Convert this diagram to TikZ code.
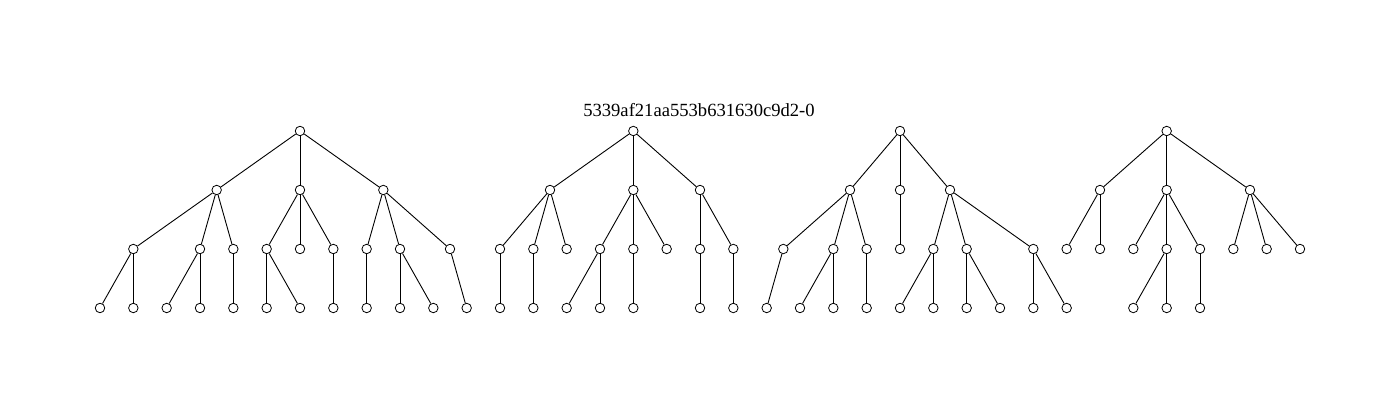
\documentclass[tikz,border=0pt]{standalone}
\usepackage{fontspec}
\setmainfont{Liberation Serif}
\tikzset{vtx/.style={circle,draw,fill=white,inner sep=0pt,minimum size=9.5pt,line width=.8pt},
  edge/.style={line width=.9pt}}

\begin{document}
\begin{tikzpicture}[x=33.333pt,y=59pt]
\useasboundingbox (-3,2.2203) rectangle (39,-4.7119);
\node[font=\fontsize{18.6}{22}\selectfont] (title) at (17.97,0.36) {5339af21aa553b631630c9d2-0};
% tree 1
\foreach \n/\x/\y in {t1/6/0, t1a/3.5/-1, t1b/6/-1, t1c/8.5/-1,
  t1aa/1/-2, t1ab/3/-2, t1ac/4/-2, t1ba/5/-2, t1bb/6/-2, t1bc/7/-2, t1ca/8/-2, t1cb/9/-2, t1cc/10.5/-2,
  t1aaa/0/-3, t1aab/1/-3, t1aba/2/-3, t1abb/3/-3, t1aca/4/-3, t1baa/5/-3, t1bab/6/-3,
  t1bca/7/-3, t1caa/8/-3, t1cba/9/-3, t1cbb/10/-3, t1cca/11/-3}
  \node[vtx] (\n) at (\x,\y) {};
% tree 2
\foreach \n/\x/\y in {t2/16/0, t2a/13.5/-1, t2b/16/-1, t2c/18/-1,
  t2aa/12/-2, t2ab/13/-2, t2ac/14/-2, t2ba/15/-2, t2bb/16/-2, t2bc/17/-2, t2ca/18/-2, t2cb/19/-2,
  t2aaa/12/-3, t2aba/13/-3, t2baa/14/-3, t2bab/15/-3, t2bba/16/-3, t2caa/18/-3, t2cba/19/-3}
  \node[vtx] (\n) at (\x,\y) {};
% tree 3
\foreach \n/\x/\y in {t3/24/0, t3a/22.5/-1, t3b/24/-1, t3c/25.5/-1,
  t3aa/20.5/-2, t3ab/22/-2, t3ac/23/-2, t3ba/24/-2, t3ca/25/-2, t3cb/26/-2, t3cc/28/-2,
  t3aaa/20/-3, t3aba/21/-3, t3abb/22/-3, t3aca/23/-3, t3caa/24/-3, t3cab/25/-3,
  t3cba/26/-3, t3cbb/27/-3, t3cca/28/-3, t3ccb/29/-3}
  \node[vtx] (\n) at (\x,\y) {};
% tree 4
\foreach \n/\x/\y in {t4/32/0, t4a/30/-1, t4b/32/-1, t4c/34.5/-1,
  t4aa/29/-2, t4ab/30/-2, t4ba/31/-2, t4bb/32/-2, t4bc/33/-2, t4ca/34/-2, t4cb/35/-2, t4cc/36/-2,
  t4bba/31/-3, t4bbb/32/-3, t4bca/33/-3}
  \node[vtx] (\n) at (\x,\y) {};
% edges
\foreach \p/\c in {t1/t1a, t1/t1b, t1/t1c, t1a/t1aa, t1a/t1ab, t1a/t1ac, t1b/t1ba, t1b/t1bb, t1b/t1bc,
  t1c/t1ca, t1c/t1cb, t1c/t1cc, t1aa/t1aaa, t1aa/t1aab, t1ab/t1aba, t1ab/t1abb, t1ac/t1aca,
  t1ba/t1baa, t1ba/t1bab, t1bc/t1bca, t1ca/t1caa, t1cb/t1cba, t1cb/t1cbb, t1cc/t1cca,
  t2/t2a, t2/t2b, t2/t2c, t2a/t2aa, t2a/t2ab, t2a/t2ac, t2b/t2ba, t2b/t2bb, t2b/t2bc, t2c/t2ca, t2c/t2cb,
  t2aa/t2aaa, t2ab/t2aba, t2ba/t2baa, t2ba/t2bab, t2bb/t2bba, t2ca/t2caa, t2cb/t2cba,
  t3/t3a, t3/t3b, t3/t3c, t3a/t3aa, t3a/t3ab, t3a/t3ac, t3b/t3ba, t3c/t3ca, t3c/t3cb, t3c/t3cc,
  t3aa/t3aaa, t3ab/t3aba, t3ab/t3abb, t3ac/t3aca, t3ca/t3caa, t3ca/t3cab, t3cb/t3cba, t3cb/t3cbb,
  t3cc/t3cca, t3cc/t3ccb,
  t4/t4a, t4/t4b, t4/t4c, t4a/t4aa, t4a/t4ab, t4b/t4ba, t4b/t4bb, t4b/t4bc, t4c/t4ca, t4c/t4cb, t4c/t4cc,
  t4bb/t4bba, t4bb/t4bbb, t4bc/t4bca}
  \draw[edge] (\p) -- (\c);
\end{tikzpicture}
\end{document}
